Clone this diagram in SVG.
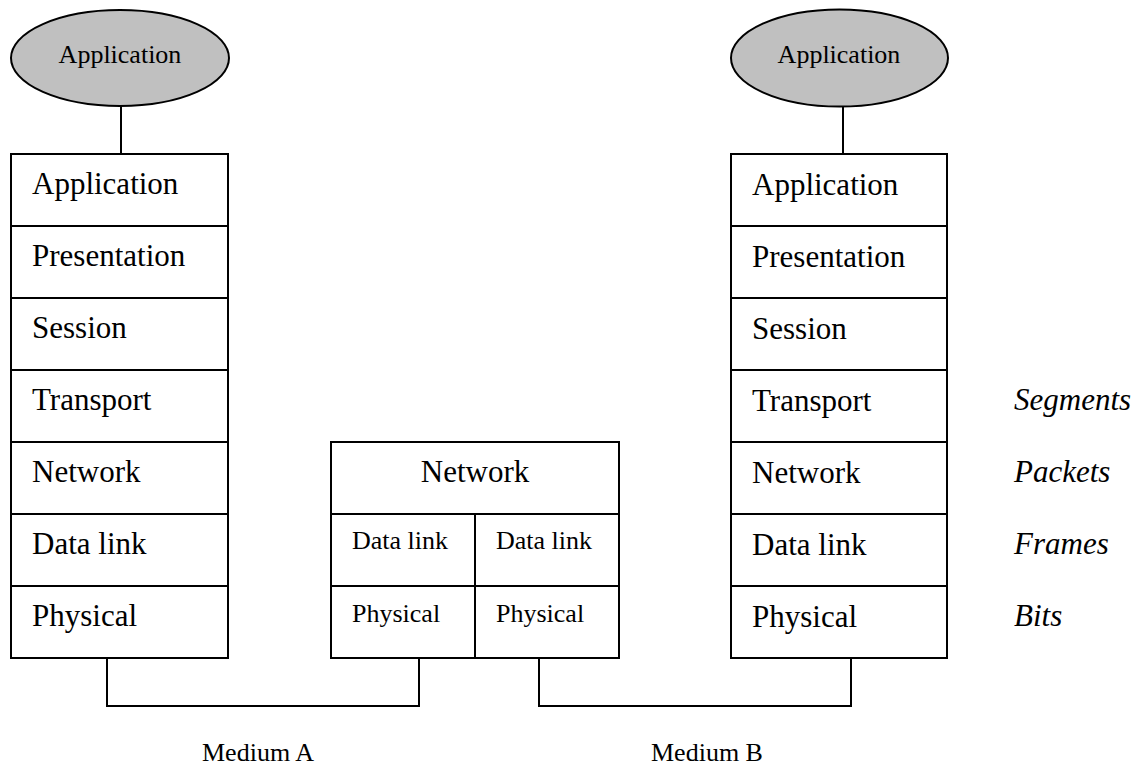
<svg xmlns="http://www.w3.org/2000/svg" width="1142" height="767" viewBox="0 0 1142 767">
<style>
.box{fill:#fff;stroke:#000;stroke-width:2}
.ell{fill:#c0c0c0;stroke:#000;stroke-width:2}
.ln{fill:none;stroke:#000;stroke-width:2}
.big{font-family:"Liberation Serif","Times New Roman",serif;font-size:31px;fill:#000}
.sm{font-family:"Liberation Serif","Times New Roman",serif;font-size:26px;fill:#000}
.it{font-family:"Liberation Serif","Times New Roman",serif;font-size:31px;font-style:italic;fill:#000}
</style>
<rect width="1142" height="767" fill="#fff"/>
<g id="connectors">
<line class="ln" x1="121" y1="106" x2="121" y2="154"/>
<line class="ln" x1="843" y1="107" x2="843" y2="154"/>
<polyline class="ln" points="107,658 107,706 419,706 419,658"/>
<polyline class="ln" points="539,658 539,706 851,706 851,658"/>
</g>
<g id="app-left">
<ellipse class="ell" cx="120" cy="58" rx="109" ry="48"/>
<text class="sm" x="120" y="63" text-anchor="middle">Application</text>
</g>
<g id="app-right">
<ellipse class="ell" cx="839.5" cy="58" rx="108.5" ry="48.5"/>
<text class="sm" x="839" y="63" text-anchor="middle">Application</text>
</g>
<g id="stack-left">
<rect class="box" x="11" y="154" width="217" height="504"/>
<line class="ln" x1="11" y1="226" x2="228" y2="226"/>
<line class="ln" x1="11" y1="298" x2="228" y2="298"/>
<line class="ln" x1="11" y1="370" x2="228" y2="370"/>
<line class="ln" x1="11" y1="442" x2="228" y2="442"/>
<line class="ln" x1="11" y1="514" x2="228" y2="514"/>
<line class="ln" x1="11" y1="586" x2="228" y2="586"/>
<text class="big" x="32" y="194">Application</text>
<text class="big" x="32" y="266">Presentation</text>
<text class="big" x="32" y="338">Session</text>
<text class="big" x="32" y="410">Transport</text>
<text class="big" x="32" y="482">Network</text>
<text class="big" x="32" y="554">Data link</text>
<text class="big" x="32" y="626">Physical</text>
</g>
<g id="router">
<rect class="box" x="331" y="442" width="288" height="216"/>
<line class="ln" x1="331" y1="514" x2="619" y2="514"/>
<line class="ln" x1="331" y1="586" x2="619" y2="586"/>
<line class="ln" x1="475" y1="514" x2="475" y2="658"/>
<text class="big" x="475" y="482" text-anchor="middle">Network</text>
<text class="sm" x="352" y="549">Data link</text>
<text class="sm" x="496" y="549">Data link</text>
<text class="sm" x="352" y="622">Physical</text>
<text class="sm" x="496" y="622">Physical</text>
</g>
<g id="stack-right">
<rect class="box" x="731" y="154" width="216" height="504"/>
<line class="ln" x1="731" y1="226" x2="947" y2="226"/>
<line class="ln" x1="731" y1="298" x2="947" y2="298"/>
<line class="ln" x1="731" y1="370" x2="947" y2="370"/>
<line class="ln" x1="731" y1="442" x2="947" y2="442"/>
<line class="ln" x1="731" y1="514" x2="947" y2="514"/>
<line class="ln" x1="731" y1="586" x2="947" y2="586"/>
<text class="big" x="752" y="195">Application</text>
<text class="big" x="752" y="267">Presentation</text>
<text class="big" x="752" y="339">Session</text>
<text class="big" x="752" y="411">Transport</text>
<text class="big" x="752" y="483">Network</text>
<text class="big" x="752" y="555">Data link</text>
<text class="big" x="752" y="627">Physical</text>
</g>
<g id="pdu-labels">
<text class="it" x="1014" y="410">Segments</text>
<text class="it" x="1014" y="482">Packets</text>
<text class="it" x="1014" y="554">Frames</text>
<text class="it" x="1014" y="626">Bits</text>
</g>
<g id="medium-labels">
<text class="sm" x="202" y="761">Medium A</text>
<text class="sm" x="651" y="761">Medium B</text>
</g>
</svg>
